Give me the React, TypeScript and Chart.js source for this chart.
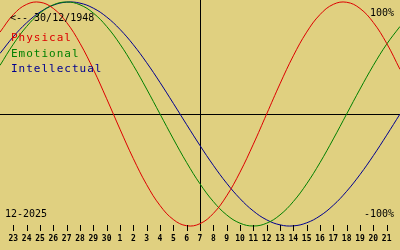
import React, { useEffect, useRef } from "react";
import { Chart, registerables } from "chart.js";

Chart.register(...registerables);

const birthLabel = "<-- 30/12/1948";
const monthLabel = "12-2025";
const topLabel = "100%";
const bottomLabel = "-100%";

// visible day ticks (day offsets 0..28)
const dayLabels = [
  "23", "24", "25", "26", "27", "28", "29", "30",
  "1", "2", "3", "4", "5", "6", "7", "8", "9", "10",
  "11", "12", "13", "14", "15", "16", "17", "18", "19", "20", "21",
];
const todayIndex = 14;
const firstOffset = -1; // series start one day before the first tick

// values for day offsets -1 .. 29
const physical = [
  0.7308, 0.8879, 0.9791, 0.9977, 0.9423, 0.817, 0.6311, 0.3984, 0.1362,
  -0.1362, -0.3984, -0.6311, -0.817, -0.9423, -0.9977, -0.9791, -0.8879,
  -0.7308, -0.5196, -0.2698, 0, 0.2698, 0.5196, 0.7308, 0.8879, 0.9791,
  0.9977, 0.9423, 0.817, 0.6311, 0.3984,
];
const emotional = [
  0.4339, 0.6235, 0.7818, 0.901, 0.9749, 1, 0.9749, 0.901, 0.7818, 0.6235,
  0.4339, 0.2225, 0, -0.2225, -0.4339, -0.6235, -0.7818, -0.901, -0.9749,
  -1, -0.9749, -0.901, -0.7818, -0.6235, -0.4339, -0.2225, 0, 0.2225,
  0.4339, 0.6235, 0.7818,
];
const intellectual = [
  0.5406, 0.6901, 0.8146, 0.9096, 0.9718, 0.9989, 0.9898, 0.945, 0.866,
  0.7557, 0.6182, 0.4582, 0.2817, 0.0951, -0.0951, -0.2817, -0.4582,
  -0.6182, -0.7557, -0.866, -0.945, -0.9898, -0.9989, -0.9718, -0.9096,
  -0.8146, -0.6901, -0.5406, -0.3717, -0.1893, 0,
];

const seriesNames = ["Physical", "Emotional", "Intellectual"];
const seriesColors = ["#dd0000", "#008000", "#000090"];
const seriesValues = [physical, emotional, intellectual];

const bgColor = "#e0d080";

const overlayPlugin = {
  id: "bioOverlay",
  beforeDraw(chart: any) {
    const ctx = chart.ctx;
    ctx.save();
    ctx.fillStyle = bgColor;
    ctx.fillRect(0, 0, chart.width, chart.height);
    ctx.restore();
  },
  beforeDatasetsDraw(chart: any) {
    const ctx = chart.ctx;
    const xs = chart.scales.x;
    const ys = chart.scales.y;
    ctx.save();
    ctx.strokeStyle = "#000";
    ctx.lineWidth = 1;
    const y0 = Math.round(ys.getPixelForValue(0)) + 0.5;
    ctx.beginPath();
    ctx.moveTo(0, y0);
    ctx.lineTo(chart.width, y0);
    ctx.stroke();
    const xt = Math.round(xs.getPixelForValue(todayIndex)) + 0.5;
    ctx.beginPath();
    ctx.moveTo(xt, 0);
    ctx.lineTo(xt, 231);
    ctx.stroke();
    ctx.restore();
  },
  afterDatasetsDraw(chart: any) {
    const ctx = chart.ctx;
    const xs = chart.scales.x;
    ctx.save();
    // day ticks
    ctx.strokeStyle = "#000";
    ctx.lineWidth = 1;
    dayLabels.forEach((_, i) => {
      const x = Math.round(xs.getPixelForValue(i)) + 0.5;
      ctx.beginPath();
      ctx.moveTo(x, 225);
      ctx.lineTo(x, 231);
      ctx.stroke();
    });
    ctx.fillStyle = "#000";
    ctx.font = "bold 8px 'DejaVu Sans Mono'";
    ctx.textAlign = "center";
    ctx.textBaseline = "alphabetic";
    dayLabels.forEach((lab, i) => {
      ctx.fillText(lab, xs.getPixelForValue(i), 241);
    });

    ctx.font = "10px 'DejaVu Sans Mono'";
    ctx.textAlign = "left";
    ctx.fillText(birthLabel, 10, 21);
    ctx.fillText(monthLabel, 5, 217);
    ctx.textAlign = "right";
    ctx.fillText(topLabel, 394, 16);
    ctx.fillText(bottomLabel, 394, 217);

    ctx.textAlign = "left";
    ctx.font = "11px 'DejaVu Sans Mono'";
    (ctx as any).letterSpacing = "1px";
    seriesNames.forEach((name, k) => {
      ctx.fillStyle = seriesColors[k];
      ctx.fillText(name, 11, 41 + k * 15.5);
    });
    ctx.restore();
  },
};

export default function App() {
  const ref = useRef<HTMLCanvasElement | null>(null);
  useEffect(() => {
    if (!ref.current) return;
    const chart = new Chart(ref.current, {
      type: "line",
      data: {
        datasets: seriesValues.map((vals, k) => ({
          label: seriesNames[k],
          data: vals.map((v, j) => ({ x: j + firstOffset, y: v })),
          borderColor: seriesColors[k],
          borderWidth: 1,
          pointRadius: 0,
          tension: 0.4,
          fill: false,
        })),
      },
      options: {
        responsive: false,
        animation: false,
        layout: { padding: 0 },
        plugins: {
          legend: { display: false },
          tooltip: { enabled: false },
        },
        scales: {
          x: {
            type: "linear",
            display: false,
            min: firstOffset,
            max: dayLabels.length,
          },
          y: {
            type: "linear",
            display: false,
            min: -1.214286,
            max: 1.017857,
          },
        },
      },
      plugins: [overlayPlugin],
    });
    return () => chart.destroy();
  }, []);
  return (
    <div style={{ position: "fixed", left: 0, top: 0, width: 400, height: 250 }}>
      <canvas ref={ref} width={400} height={250} style={{ display: "block" }} />
    </div>
  );
}
